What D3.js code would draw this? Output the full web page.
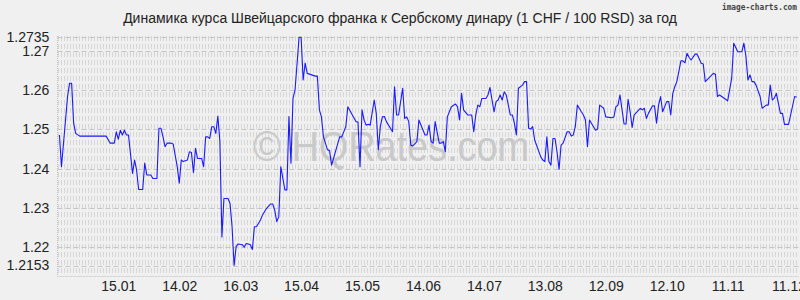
<!DOCTYPE html>
<html><head><meta charset="utf-8">
<script src="https://cdn.jsdelivr.net/npm/d3@7"></script>
<style>
html,body{margin:0;padding:0;background:#f0f0f0;}
svg{display:block;}
</style></head>
<body>
<svg id="chart" width="800" height="300"></svg>
<script>
// ---- data ----
const titleText = "Динамика курса Швейцарского франка к Сербскому динару (1 CHF / 100 RSD) за год";
const startDate = "2018-12-16";
const endDate = "2019-12-16";
// day offsets from startDate and CHF/RSD (per 100) values
const dayOffsets = [1,2,4,5,6,7,8,9,11,24,26,28,29,30,31,32,33,34,35,37,38,39,40,42,43,44,46,47,49,50,51,52,53,54,56,57,59,60,61,62,64,65,66,67,68,69,71,
72,73,74,75,76,77,78,79,80,81,82,84,85,86,87,88,89,91,92,93,94,95,96,97,98,100,101,103,105,106,107,108,109,110,112,113,114,115,116,117,119,120,121,122,123,127,128,129,130,131,133,134,135,139,140,142,143,147,148,149,150,151,152,153,154,156,157,158,159,160,161,162,165,166,167,168,
170,171,172,173,174,175,177,178,181,182,183,184,185,186,188,189,190,191,192,194,196,197,198,199,200,202,204,205,206,207,208,209,211,212,213,214,215,216,217,218,219,220,221,223,224,225,226,227,229,230,231,232,233,234,235,238,239,240,241,242,243,244,245,246,247,248,249,251,252,253,254,255,256,258,259,260,261,262,265,266,267,
269,270,273,274,275,276,277,279,280,281,282,283,284,287,288,289,290,291,293,294,295,296,297,298,300,301,302,303,304,305,307,308,309,310,311,312,314,315,317,318,319,323,324,325,326,329,330,332,333,335,337,338,339,340,341,342,343,344,346,347,349,350,351,352,353,354,356,357,358,360,363,364];
const rates = [1.2486,1.2405,1.2524,1.2584,1.2618,1.2618,1.2516,1.2490,1.2483,1.2483,1.2465,1.2465,1.2494,1.2475,1.2498,1.2486,1.2498,1.2486,1.2486,1.2388,1.2422,1.2396,1.2347,1.2347,1.2414,1.2384,1.2384,1.2375,1.2375,1.2503,1.2503,1.2481,1.2456,1.2465,1.2465,1.2463,1.2405,1.2363,1.2422,1.2418,1.2422,1.2443,1.2441,1.2390,1.2452,1.2426,1.2426,
1.2405,1.2481,1.2481,1.2477,1.2507,1.2507,1.2490,1.2534,1.2470,1.2226,1.2324,1.2324,1.2311,1.2252,1.2153,1.2201,1.2208,1.2206,1.2200,1.2209,1.2208,1.2206,1.2194,1.2252,1.2252,1.2269,1.2282,1.2299,1.2310,1.2310,1.2294,1.2265,1.2277,1.2405,1.2346,1.2346,1.2533,1.2414,1.2579,1.2600,1.2735,1.2735,1.2626,1.2669,1.2643,1.2636,1.2636,1.2550,1.2532,1.2481,1.2448,1.2446,1.2409,1.2481,1.2481,1.2507,1.2558,1.2520,1.2519,1.2405,1.2550,1.2524,1.2511,1.2513,1.2511,1.2575,1.2541,1.2448,1.2507,1.2532,1.2533,1.2520,1.2494,1.2609,1.2537,1.2537,1.2605,
1.2528,1.2532,1.2520,1.2460,1.2458,1.2469,1.2524,1.2486,1.2486,1.2511,1.2469,1.2465,1.2520,1.2465,1.2465,1.2469,1.2443,1.2532,1.2558,1.2565,1.2558,1.2524,1.2592,1.2550,1.2537,1.2537,1.2494,1.2537,1.2562,1.2558,1.2579,1.2579,1.2588,1.2607,1.2575,1.2545,1.2571,1.2575,1.2588,1.2575,1.2596,1.2588,1.2537,1.2537,1.2516,1.2486,1.2605,1.2613,1.2622,1.2622,1.2503,1.2501,1.2507,1.2473,1.2430,1.2422,1.2418,1.2481,1.2418,1.2409,1.2477,1.2477,1.2443,1.2398,1.2460,1.2465,1.2494,1.2494,1.2483,1.2486,1.2507,1.2562,1.2545,1.2537,1.2524,1.2456,1.2524,1.2498,1.2501,1.2562,1.2554,
1.2532,1.2530,1.2532,1.2558,1.2562,1.2588,1.2514,1.2514,1.2577,1.2545,1.2505,1.2537,1.2554,1.2550,1.2554,1.2528,1.2541,1.2560,1.2560,1.2516,1.2562,1.2584,1.2545,1.2571,1.2571,1.2537,1.2592,1.2609,1.2622,1.2675,1.2675,1.2670,1.2694,1.2684,1.2677,1.2692,1.2692,1.2669,1.2667,1.2622,1.2643,1.2641,1.2584,1.2588,1.2577,1.2573,1.2630,1.2720,1.2698,1.2698,1.2720,1.2687,1.2626,1.2639,1.2622,1.2622,1.2613,1.2584,1.2554,1.2562,1.2562,1.2613,1.2575,1.2580,1.2592,1.2541,1.2541,1.2513,1.2513,1.2584,1.2582,1.2567];
const yTicks = [1.2153, 1.22, 1.23, 1.24, 1.25, 1.26, 1.27, 1.2735];
const xTickDates = ["2019-01-15","2019-02-14","2019-03-16","2019-04-15","2019-05-15","2019-06-14","2019-07-14","2019-08-13","2019-09-12","2019-10-12","2019-11-11","2019-12-11"];
const watermarkText = "© HQRates.com";
const creditText = "image-charts.com";

// ---- layout ----
const svg = d3.select("#chart");
const plotLeft = 57.4, plotRight = 798.7, plotTop = 36, plotBottom = 276;
const parse = d3.utcParse("%Y-%m-%d");
const t0 = parse(startDate), t1 = parse(endDate);
const x = d3.scaleUtc().domain([t0, t1]).range([plotLeft, plotRight]);
const y = d3.scaleLinear().domain([1.2153, 1.2735]).range([265.5, 37.3]);

const data = dayOffsets.map((d, i) => ({date: d3.utcDay.offset(t0, d), v: rates[i]}));

svg.append("rect").attr("width", 800).attr("height", 300).attr("fill", "#f0f0f0");

// vertical dashed grid
const grid = svg.append("g");
const vx = d3.range(plotLeft + 0.6, plotRight, 3);
grid.selectAll("line.v").data(vx).join("line")
  .attr("x1", d => Math.round(d) + 0.5).attr("x2", d => Math.round(d) + 0.5)
  .attr("y1", plotTop).attr("y2", plotBottom)
  .attr("stroke", "#d6d6d6").attr("stroke-width", 1)
  .attr("stroke-dasharray", "5,3");
// horizontal dashed grid at ticks
grid.selectAll("line.h").data(yTicks).join("line")
  .attr("x1", plotLeft).attr("x2", plotRight)
  .attr("y1", d => Math.round(y(d)) + 0.5).attr("y2", d => Math.round(y(d)) + 0.5)
  .attr("stroke", "#c6c6c6").attr("stroke-width", 1)
  .attr("stroke-dasharray", "5,3");
// dotted frame left & bottom
grid.append("line").attr("x1", plotLeft).attr("x2", plotRight)
  .attr("y1", plotBottom + 0.5).attr("y2", plotBottom + 0.5)
  .attr("stroke", "#c0c0c0").attr("stroke-dasharray", "1,1");
grid.append("line").attr("x1", Math.round(plotLeft) + 0.5).attr("x2", Math.round(plotLeft) + 0.5)
  .attr("y1", plotTop).attr("y2", plotBottom)
  .attr("stroke", "#c0c0c0").attr("stroke-dasharray", "1,1");

// watermark
svg.append("text").attr("x", 253).attr("y", 161)
  .attr("font-family", "Liberation Sans, Arial, sans-serif").attr("font-size", 42)
  .attr("fill", "#c9c9c9").attr("textLength", 276).attr("lengthAdjust", "spacingAndGlyphs")
  .text(watermarkText);

// line
svg.append("path").datum(data)
  .attr("fill", "none").attr("stroke", "#1a1aff").attr("stroke-width", 1.1)
  .attr("stroke-linejoin", "round")
  .attr("d", d3.line().x(d => x(d.date)).y(d => y(d.v)));

// axes
const yAxis = svg.append("g").attr("transform", `translate(${plotLeft},0)`)
  .call(d3.axisLeft(y).tickValues(yTicks).tickSize(0).tickPadding(8).tickFormat(d => String(d)));
yAxis.select(".domain").remove();
yAxis.selectAll("text").attr("font-family", "Liberation Sans, Arial, sans-serif").attr("font-size", 14).attr("fill", "#222");

const xAxis = svg.append("g").attr("transform", `translate(0,${plotBottom})`)
  .call(d3.axisBottom(x).tickValues(xTickDates.map(parse)).tickSize(0).tickPadding(5).tickFormat(d3.utcFormat("%d.%m")));
xAxis.select(".domain").remove();
xAxis.selectAll("text").attr("font-family", "Liberation Sans, Arial, sans-serif").attr("font-size", 14).attr("fill", "#222");

// title
svg.append("text").attr("x", 400).attr("y", 23).attr("text-anchor", "middle")
  .attr("font-family", "Liberation Sans, Arial, sans-serif").attr("font-size", 14).attr("fill", "#222")
  .text(titleText);

// credit
svg.append("text").attr("x", 797).attr("y", 10).attr("text-anchor", "end")
  .attr("font-family", "DejaVu Sans Mono, monospace").attr("font-size", 9.5).attr("font-weight", "bold")
  .attr("fill", "#444").attr("textLength", 75).attr("lengthAdjust", "spacingAndGlyphs")
  .text(creditText);
</script>
</body></html>
